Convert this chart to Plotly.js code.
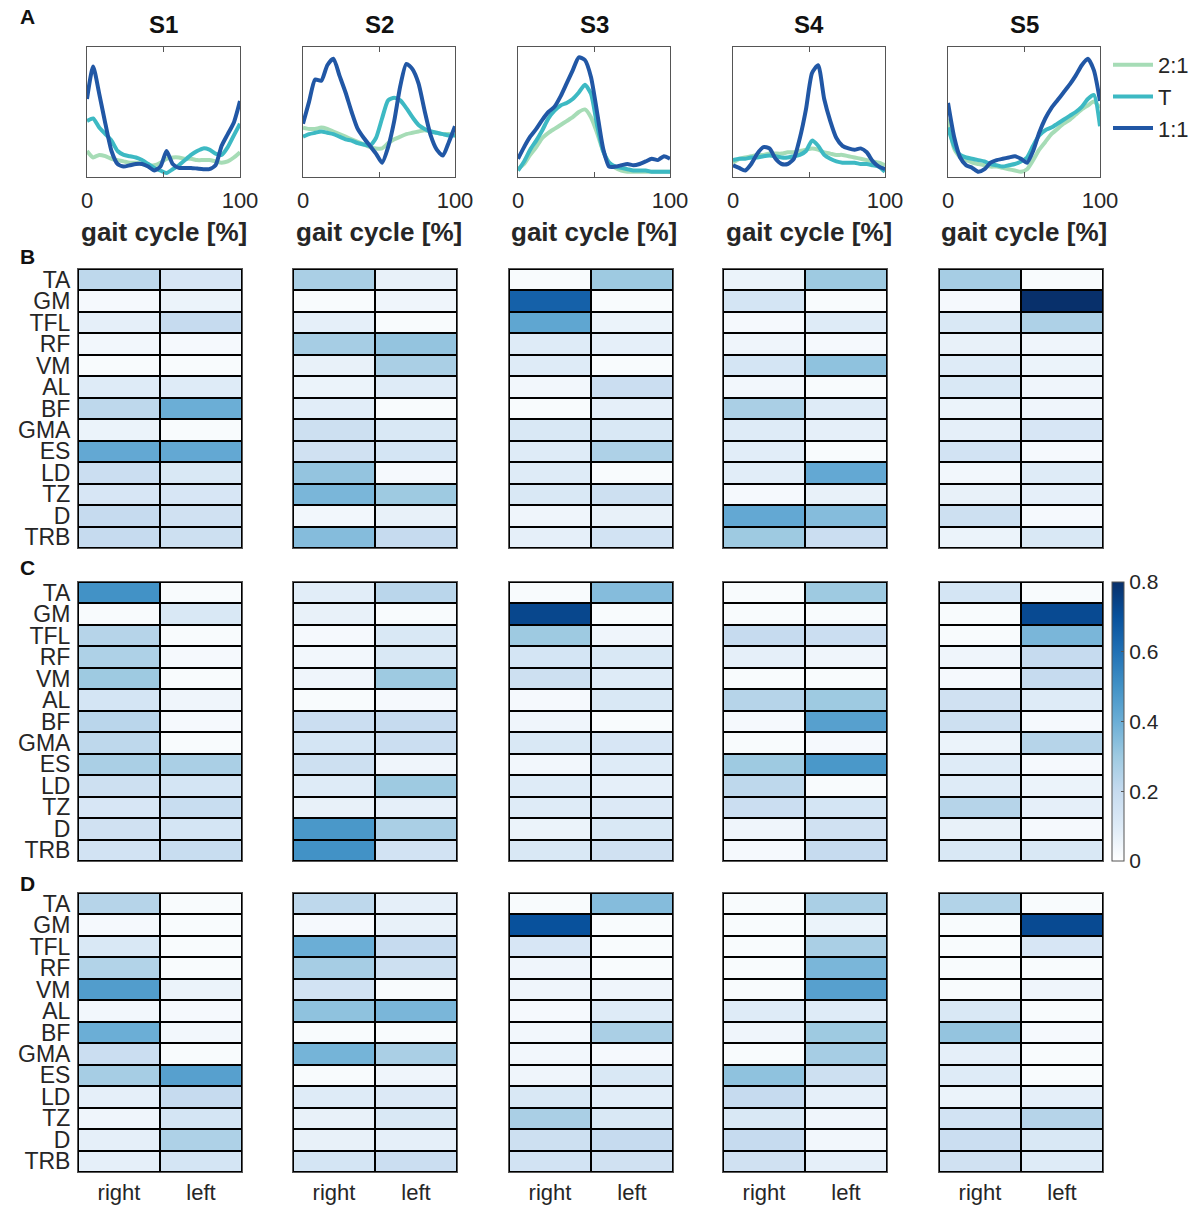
<!DOCTYPE html>
<html>
<head>
<meta charset="utf-8">
<script src="https://cdn.plot.ly/plotly-3.0.1.min.js"></script>
<style>
html,body{margin:0;padding:0;background:#fff;}
#chart{width:1203px;height:1206px;}
</style>
</head>
<body>
<div id="chart"></div>
<script>
// ---------- DATA ----------
const subjects = ['S1','S2','S3','S4','S5'];
const muscles = ['TA','GM','TFL','RF','VM','AL','BF','GMA','ES','LD','TZ','D','TRB'];
const sides = ['right','left'];
const conditions = ['2:1','T','1:1'];

// gait cycle [%]
const gaitX = [0,4,8,12,16,20,24,28,32,36,40,44,48,52,56,60,64,68,72,76,80,84,88,92,96,100];

// Panel A: normalized EMG envelopes (arbitrary units)
const S1_21 = [0.20,0.15,0.17,0.16,0.14,0.13,0.12,0.11,0.11,0.10,0.09,0.09,0.11,0.14,0.15,0.15,0.14,0.14,0.13,0.13,0.13,0.12,0.11,0.12,0.15,0.19];
const S1_T  = [0.43,0.45,0.38,0.33,0.28,0.20,0.17,0.16,0.15,0.13,0.10,0.07,0.05,0.03,0.06,0.09,0.13,0.17,0.20,0.22,0.21,0.18,0.17,0.23,0.32,0.41];
const S1_11 = [0.60,0.85,0.64,0.41,0.20,0.10,0.08,0.09,0.10,0.10,0.08,0.05,0.08,0.20,0.10,0.07,0.07,0.07,0.065,0.06,0.06,0.09,0.24,0.33,0.42,0.585];

const S2_21 = [0.38,0.37,0.37,0.38,0.37,0.35,0.33,0.31,0.29,0.27,0.25,0.23,0.22,0.22,0.26,0.29,0.31,0.33,0.34,0.35,0.36,0.35,0.34,0.33,0.33,0.32];
const S2_T  = [0.31,0.33,0.34,0.35,0.34,0.33,0.31,0.29,0.28,0.26,0.25,0.24,0.30,0.45,0.59,0.61,0.59,0.53,0.46,0.40,0.37,0.35,0.34,0.33,0.32,0.32];
const S2_11 = [0.41,0.58,0.75,0.74,0.86,0.91,0.78,0.65,0.50,0.37,0.30,0.24,0.18,0.11,0.23,0.43,0.70,0.87,0.83,0.72,0.51,0.32,0.21,0.165,0.27,0.39];

const S3_21 = [0.06,0.10,0.17,0.23,0.30,0.34,0.37,0.40,0.43,0.46,0.50,0.52,0.46,0.34,0.20,0.11,0.07,0.05,0.04,0.04,0.04,0.04,0.04,0.04,0.04,0.04];
const S3_T  = [0.05,0.12,0.21,0.28,0.36,0.45,0.51,0.55,0.57,0.60,0.65,0.71,0.64,0.40,0.20,0.11,0.08,0.07,0.06,0.05,0.05,0.05,0.04,0.04,0.04,0.04];
const S3_11 = [0.14,0.23,0.31,0.37,0.44,0.50,0.54,0.62,0.72,0.82,0.92,0.90,0.77,0.50,0.22,0.08,0.08,0.09,0.10,0.09,0.10,0.12,0.14,0.13,0.16,0.14];

const S4_21 = [0.11,0.14,0.15,0.16,0.17,0.17,0.18,0.18,0.18,0.19,0.19,0.20,0.21,0.22,0.21,0.19,0.18,0.17,0.17,0.16,0.15,0.14,0.13,0.12,0.11,0.09];
const S4_T  = [0.13,0.14,0.14,0.15,0.15,0.16,0.165,0.16,0.15,0.15,0.16,0.17,0.20,0.28,0.24,0.17,0.14,0.12,0.11,0.11,0.11,0.10,0.10,0.09,0.08,0.04];
const S4_11 = [0.09,0.07,0.05,0.10,0.18,0.23,0.22,0.14,0.10,0.10,0.14,0.30,0.52,0.80,0.86,0.60,0.43,0.30,0.24,0.22,0.21,0.22,0.19,0.12,0.08,0.06];

const S5_21 = [0.45,0.22,0.15,0.13,0.11,0.10,0.09,0.08,0.08,0.07,0.06,0.05,0.04,0.06,0.13,0.21,0.27,0.33,0.37,0.41,0.44,0.48,0.52,0.55,0.58,0.53];
const S5_T  = [0.38,0.24,0.17,0.15,0.14,0.13,0.12,0.10,0.09,0.08,0.09,0.10,0.12,0.15,0.24,0.32,0.36,0.38,0.41,0.44,0.47,0.50,0.54,0.60,0.63,0.39];
const S5_11 = [0.57,0.31,0.15,0.09,0.07,0.04,0.06,0.11,0.13,0.14,0.15,0.16,0.14,0.11,0.20,0.34,0.45,0.53,0.59,0.65,0.71,0.78,0.86,0.91,0.82,0.585];

// Panels B, C, D: muscle values (right / left), order = muscles
const B1_right = [0.22,0.03,0.08,0.04,0.02,0.10,0.22,0.06,0.42,0.18,0.13,0.20,0.20];
const B1_left  = [0.13,0.06,0.20,0.03,0.02,0.10,0.40,0.02,0.42,0.12,0.13,0.16,0.17];
const B2_right = [0.27,0.02,0.08,0.28,0.07,0.06,0.09,0.17,0.16,0.32,0.37,0.04,0.35];
const B2_left  = [0.07,0.05,0.02,0.32,0.27,0.10,0.02,0.12,0.14,0.03,0.30,0.07,0.20];
const B3_right = [0.02,0.65,0.43,0.10,0.10,0.04,0.02,0.12,0.10,0.10,0.12,0.05,0.08];
const B3_left  = [0.30,0.02,0.06,0.08,0.02,0.18,0.08,0.12,0.26,0.02,0.17,0.07,0.15];
const B4_right = [0.06,0.14,0.03,0.05,0.14,0.04,0.27,0.10,0.09,0.09,0.03,0.42,0.30];
const B4_left  = [0.30,0.02,0.10,0.03,0.33,0.02,0.10,0.08,0.02,0.42,0.07,0.35,0.18];
const B5_right = [0.28,0.03,0.12,0.07,0.10,0.12,0.06,0.08,0.15,0.04,0.07,0.17,0.06];
const B5_left  = [0.02,0.80,0.26,0.05,0.06,0.05,0.05,0.13,0.03,0.10,0.08,0.03,0.12];

const C1_right = [0.50,0.02,0.24,0.26,0.30,0.14,0.23,0.22,0.27,0.17,0.13,0.16,0.15];
const C1_left  = [0.02,0.12,0.02,0.03,0.02,0.05,0.03,0.02,0.27,0.14,0.19,0.14,0.19];
const C2_right = [0.09,0.07,0.03,0.04,0.05,0.02,0.18,0.14,0.17,0.10,0.07,0.48,0.50];
const C2_left  = [0.23,0.02,0.12,0.12,0.30,0.03,0.20,0.18,0.05,0.30,0.08,0.27,0.15];
const C3_right = [0.02,0.73,0.30,0.14,0.17,0.03,0.05,0.12,0.04,0.10,0.10,0.06,0.12];
const C3_left  = [0.35,0.02,0.05,0.12,0.10,0.12,0.02,0.13,0.10,0.08,0.11,0.12,0.16];
const C4_right = [0.02,0.02,0.20,0.08,0.02,0.24,0.03,0.02,0.30,0.22,0.18,0.05,0.03];
const C4_left  = [0.30,0.02,0.18,0.05,0.02,0.30,0.45,0.03,0.48,0.02,0.14,0.16,0.20];
const C5_right = [0.14,0.02,0.02,0.05,0.03,0.16,0.17,0.06,0.10,0.10,0.24,0.07,0.12];
const C5_left  = [0.02,0.72,0.37,0.20,0.20,0.10,0.03,0.24,0.03,0.06,0.08,0.03,0.12];

const D1_right = [0.24,0.03,0.12,0.25,0.46,0.04,0.40,0.18,0.28,0.08,0.05,0.08,0.08];
const D1_left  = [0.02,0.02,0.02,0.02,0.06,0.03,0.04,0.02,0.45,0.20,0.14,0.26,0.14];
const D2_right = [0.22,0.03,0.40,0.28,0.15,0.33,0.02,0.38,0.02,0.10,0.07,0.07,0.14];
const D2_left  = [0.08,0.07,0.20,0.17,0.02,0.37,0.02,0.27,0.05,0.11,0.12,0.08,0.18];
const D3_right = [0.02,0.70,0.13,0.05,0.05,0.03,0.04,0.04,0.05,0.12,0.27,0.17,0.15];
const D3_left  = [0.35,0.02,0.02,0.02,0.05,0.10,0.27,0.03,0.12,0.09,0.12,0.20,0.16];
const D4_right = [0.02,0.02,0.02,0.02,0.02,0.10,0.05,0.02,0.33,0.20,0.12,0.20,0.16];
const D4_left  = [0.27,0.06,0.27,0.37,0.45,0.10,0.30,0.28,0.17,0.08,0.05,0.04,0.08];
const D5_right = [0.25,0.02,0.02,0.02,0.02,0.12,0.32,0.08,0.10,0.06,0.15,0.18,0.16];
const D5_left  = [0.02,0.72,0.13,0.02,0.05,0.02,0.03,0.02,0.02,0.08,0.24,0.12,0.10];

const colorTicks = [0,0.2,0.4,0.6,0.8];

// ---------- BUILD ----------
const W = 1203, H = 1206;
const lineSeries = [[S1_21,S1_T,S1_11],[S2_21,S2_T,S2_11],[S3_21,S3_T,S3_11],[S4_21,S4_T,S4_11],[S5_21,S5_T,S5_11]];
const panels = {
  B: [[B1_right,B1_left],[B2_right,B2_left],[B3_right,B3_left],[B4_right,B4_left],[B5_right,B5_left]],
  C: [[C1_right,C1_left],[C2_right,C2_left],[C3_right,C3_left],[C4_right,C4_left],[C5_right,C5_left]],
  D: [[D1_right,D1_left],[D2_right,D2_left],[D3_right,D3_left],[D4_right,D4_left],[D5_right,D5_left]]
};

const lineColors = ['#a6dcb6','#3db9c3','#2157a5'];
const FONT = 'Liberation Sans, Arial, Helvetica, sans-serif';
const TXT = '#262626';

const lineX = [[87,240],[303,455],[518,670],[733,885],[948,1100]];
const lineY = [47,177];
const hmX = [[78,242],[293,457],[509,673],[723,887],[939,1103]];
const hmY = {B:[269,548], C:[582,861], D:[893,1172]};

const px = v => v / W;
const py = v => 1 - v / H;

const blues = [
  [0,'#ffffff'],[0.125,'#deebf7'],[0.25,'#c6dbef'],[0.375,'#9ecae1'],
  [0.5,'#6baed6'],[0.625,'#4292c6'],[0.75,'#2171b5'],[0.875,'#08519c'],[1,'#08306b']
];

const data = [];
const layout = {
  width: W, height: H,
  margin: {l:0, r:0, t:0, b:0},
  paper_bgcolor: '#ffffff',
  plot_bgcolor: '#000000',
  font: {family: FONT, color: TXT},
  showlegend: true,
  legend: {
    x: px(1108), y: py(44), xanchor: 'left', yanchor: 'top',
    font: {size: 22, color: TXT, family: FONT},
    bgcolor: 'rgba(0,0,0,0)', traceorder: 'grouped', tracegroupgap: 0,
    itemwidth: 40
  },
  shapes: [],
  annotations: []
};

let ax = 0;
// Panel A: line plots
subjects.forEach((s, i) => {
  ax++;
  const xa = 'xaxis' + (ax === 1 ? '' : ax), ya = 'yaxis' + (ax === 1 ? '' : ax);
  const xr = 'x' + (ax === 1 ? '' : ax), yr = 'y' + (ax === 1 ? '' : ax);
  layout[xa] = {
    domain: [px(lineX[i][0]), px(lineX[i][1])], anchor: yr,
    range: [0, 100], tickvals: [0, 50, 100], ticktext: ['0', '', '100'],
    ticks: 'inside', ticklen: 5, tickwidth: 1, tickcolor: '#555',
    showline: true, mirror: 'ticks', linecolor: '#555', linewidth: 1.2,
    showgrid: false, zeroline: false,
    tickfont: {size: 22, color: TXT, family: FONT}, ticklabelstandoff: 3
  };
  layout[ya] = {
    domain: [py(lineY[1]), py(lineY[0])], anchor: xr,
    range: [0, 1], showticklabels: false, ticks: '',
    showline: true, mirror: true, linecolor: '#555', linewidth: 1.2,
    showgrid: false, zeroline: false
  };
  layout.shapes.push({type: 'rect', xref: xr + ' domain', yref: yr + ' domain',
    x0: 0, x1: 1, y0: 0, y1: 1, fillcolor: '#ffffff', line: {width: 0}, layer: 'below'});
  lineSeries[i].forEach((ys, k) => {
    data.push({
      type: 'scatter', mode: 'lines', x: gaitX, y: ys, xaxis: xr, yaxis: yr,
      name: conditions[k], legendgroup: conditions[k], showlegend: i === 0,
      line: {color: lineColors[k], width: 4, shape: 'spline', smoothing: 0.6},
      hoverinfo: 'skip'
    });
  });
  layout.annotations.push({xref: 'paper', yref: 'paper', x: px((lineX[i][0] + lineX[i][1]) / 2), y: py(25),
    text: '<b>' + s + '</b>', showarrow: false, xanchor: 'center', yanchor: 'middle',
    font: {size: 24, color: '#111', family: FONT}});
  layout.annotations.push({xref: 'paper', yref: 'paper', x: px((lineX[i][0] + lineX[i][1]) / 2), y: py(232),
    text: '<b>gait cycle [%]</b>', showarrow: false, xanchor: 'center', yanchor: 'middle',
    font: {size: 26, color: TXT, family: FONT}});
});

// Panels B, C, D: heatmaps
['B','C','D'].forEach(p => {
  subjects.forEach((s, i) => {
    ax++;
    const xa = 'xaxis' + ax, ya = 'yaxis' + ax, xr = 'x' + ax, yr = 'y' + ax;
    const R = panels[p][i][0], L = panels[p][i][1];
    const z = muscles.map((m, r) => [R[r], L[r]]);
    const tr = {
      type: 'heatmap', x: sides, y: muscles, z: z, xaxis: xr, yaxis: yr,
      zmin: 0, zmax: 0.8, colorscale: blues, xgap: 2, ygap: 2,
      showscale: false, hoverinfo: 'skip', showlegend: false
    };
    if (p === 'C' && i === 4) {
      tr.showscale = true;
      tr.colorbar = {
        x: px(1112), xanchor: 'left', xref: 'paper', y: py((hmY.C[0] + hmY.C[1]) / 2), yanchor: 'middle',
        thickness: 12, thicknessmode: 'pixels', len: hmY.C[1] - hmY.C[0], lenmode: 'pixels',
        outlinecolor: '#555', outlinewidth: 1, xpad: 0, ypad: 0,
        tickvals: colorTicks, ticktext: colorTicks.map(String),
        ticks: 'inside', ticklen: 3, tickcolor: '#555',
        tickfont: {size: 21, color: TXT, family: FONT}, ticklabelstandoff: 6
      };
    }
    data.push(tr);
    layout[xa] = {
      domain: [px(hmX[i][0]), px(hmX[i][1])], anchor: yr, type: 'category',
      showticklabels: p === 'D', ticks: '', tickfont: {size: 22, color: TXT, family: FONT},
      ticklabelstandoff: 1,
      showline: true, mirror: true, linecolor: '#555', linewidth: 1, showgrid: false, zeroline: false
    };
    layout[ya] = {
      domain: [py(hmY[p][1]), py(hmY[p][0])], anchor: xr, type: 'category', autorange: 'reversed',
      tickmode: 'array', tickvals: muscles, ticktext: muscles,
      showticklabels: i === 0, ticks: '', tickfont: {size: 23, color: TXT, family: FONT},
      ticklabelstandoff: 2,
      showline: true, mirror: true, linecolor: '#555', linewidth: 1, showgrid: false, zeroline: false
    };
  });
});

// Panel letters
[['A',17],['B',257],['C',567],['D',883]].forEach(([t, y]) => {
  layout.annotations.push({xref: 'paper', yref: 'paper', x: px(18), y: py(y), text: '<b>' + t + '</b>',
    showarrow: false, xanchor: 'left', yanchor: 'middle', font: {size: 21, color: '#111', family: FONT}});
});

Plotly.newPlot('chart', data, layout, {staticPlot: true, displayModeBar: false});
</script>
</body>
</html>
